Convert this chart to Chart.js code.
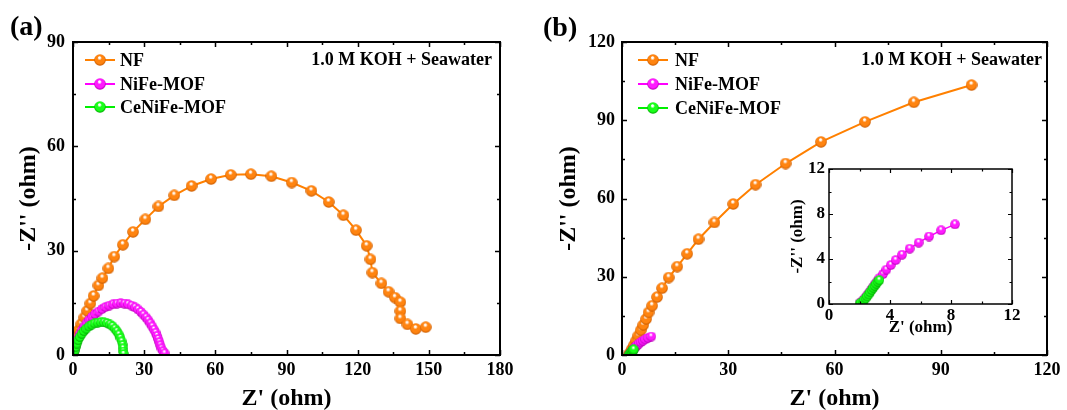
<!DOCTYPE html>
<html>
<head>
<meta charset="utf-8">
<script src="https://cdn.jsdelivr.net/npm/chart.js@4.4.1/dist/chart.umd.min.js"></script>
<style>
  html, body { margin: 0; padding: 0; background: #fff; }
  #wrap { position: relative; width: 1067px; height: 410px; overflow: hidden; }
  canvas { position: absolute; }
</style>
</head>
<body>
<div id="wrap">
  <canvas id="chartA" width="530" height="420" style="left:0;top:0"></canvas>
  <canvas id="chartB" width="537" height="420" style="left:530px;top:0"></canvas>
  <canvas id="chartInset" width="270" height="200" style="left:770px;top:150px"></canvas>
</div>
<script>
// series names
const seriesNames = ['NF', 'NiFe-MOF', 'CeNiFe-MOF'];
const electrolyte = '1.0 M KOH + Seawater';

// panel (a) - Nyquist data, Z' and -Z''
const nfA_x = [0.2, 0.5, 0.8, 1.6, 2.5, 3.5, 4.8, 6.0, 7.3, 8.7, 10.7, 12.4, 14.9, 17.4, 21.0, 25.3, 30.5, 36.0, 42.7, 50.0, 58.2, 66.5, 75.0, 83.6, 92.2, 100.5, 107.8, 114.0, 119.3, 123.8, 125.4, 126.2, 130.0, 133.0, 135.7, 138.0, 138.0, 138.0, 141.0, 144.5, 148.7];
const nfA_y = [0.3, 2.0, 3.8, 5.6, 7.2, 8.9, 10.8, 12.7, 14.8, 17.0, 20.0, 22.1, 24.9, 28.3, 31.7, 35.4, 39.0, 42.7, 45.9, 48.6, 50.6, 51.8, 52.0, 51.4, 49.6, 47.2, 44.0, 40.2, 35.9, 31.4, 27.5, 23.7, 20.6, 18.2, 16.5, 15.2, 12.6, 10.5, 8.8, 7.5, 8.0];

const nifeA_x = [0.5, 0.8, 1.2, 1.7, 2.3, 3.0, 3.8, 4.7, 5.7, 6.8, 8.0, 9.3, 10.7, 12.2, 13.7, 15.3, 16.9, 18.5, 20.1, 21.7, 23.2, 24.7, 26.1, 27.4, 28.6, 29.7, 30.8, 31.7, 32.6, 33.4, 34.1, 34.8, 35.4, 35.9, 36.4, 36.8, 37.3, 37.9, 38.6];
const nifeA_y = [0.3, 1.5, 2.7, 3.9, 5.0, 6.1, 7.2, 8.2, 9.2, 10.1, 11.0, 11.8, 12.5, 13.2, 13.8, 14.2, 14.6, 14.8, 14.9, 14.8, 14.6, 14.2, 13.7, 13.1, 12.4, 11.6, 10.8, 10.0, 9.1, 8.2, 7.3, 6.4, 5.5, 4.6, 3.7, 2.8, 1.9, 1.1, 0.5];

const ceA_x = [0.4, 0.7, 1.1, 1.6, 2.2, 2.9, 3.7, 4.6, 5.6, 6.7, 7.9, 9.1, 10.4, 11.7, 13.0, 14.3, 15.5, 16.6, 17.6, 18.5, 19.3, 20.0, 20.5, 20.9, 21.1, 21.2, 21.3];
const ceA_y = [0.3, 1.3, 2.3, 3.3, 4.3, 5.2, 6.1, 6.9, 7.6, 8.2, 8.7, 9.1, 9.3, 9.4, 9.4, 9.2, 8.8, 8.3, 7.6, 6.8, 5.9, 4.9, 3.9, 2.9, 1.9, 1.0, 0.3];

// panel (b)
const nfB_x = [2.0, 2.3, 2.8, 3.4, 4.0, 4.6, 5.3, 6.0, 6.8, 7.5, 8.5, 9.9, 11.3, 13.2, 15.6, 18.4, 21.6, 26.1, 31.4, 37.7, 46.2, 56.2, 68.6, 82.4, 98.7];
const nfB_y = [0.2, 0.9, 2.3, 3.8, 5.5, 7.4, 9.5, 11.5, 13.8, 16.3, 18.9, 22.2, 25.6, 29.7, 33.9, 38.8, 44.4, 50.8, 57.9, 65.3, 73.4, 81.7, 89.4, 96.9, 103.5];

const nifeB_x = [2.0, 2.12, 2.25, 2.38, 2.5, 2.62, 2.75, 2.88, 3.0, 3.15, 3.3, 3.54, 3.76, 4.05, 4.37, 4.79, 5.29, 5.88, 6.56, 7.35, 8.26];
const nifeB_y = [0.05, 0.17, 0.35, 0.55, 0.78, 1.0, 1.25, 1.5, 1.75, 2.0, 2.3, 2.66, 3.05, 3.46, 3.9, 4.38, 4.92, 5.45, 6.0, 6.55, 7.08];

const ceB_x = [2.0, 2.1, 2.2, 2.3, 2.4, 2.5, 2.6, 2.7, 2.8, 2.9, 3.0, 3.1, 3.2, 3.3];
const ceB_y = [0.02, 0.1, 0.2, 0.35, 0.5, 0.68, 0.85, 1.05, 1.25, 1.45, 1.62, 1.8, 1.98, 2.12];

// tick labels
const ticksA_x = [0, 30, 60, 90, 120, 150, 180];
const ticksA_y = [0, 30, 60, 90];
const ticksB_x = [0, 30, 60, 90, 120];
const ticksB_y = [0, 30, 60, 90, 120];
const ticksIn_x = [0, 4, 8, 12];
const ticksIn_y = [0, 4, 8, 12];

const FONT = '"Liberation Serif", "Times New Roman", serif';
const colors = ['#FF8000', '#FF00FF', '#00F000'];
const ballCols = [['#FF8410', '#C85A00'], ['#FF1AFF', '#B400B4'], ['#1AFF1A', '#00A800']];

function ball(col, edge, d) {
  const c = document.createElement('canvas');
  c.width = d; c.height = d;
  const g = c.getContext('2d');
  const r = d / 2;
  const grad = g.createRadialGradient(r * 0.9, r * 0.55, 0, r, r * 0.95, r);
  grad.addColorStop(0, '#ffffff');
  grad.addColorStop(0.14, '#ffffff');
  grad.addColorStop(0.38, col);
  grad.addColorStop(0.75, col);
  grad.addColorStop(1, edge);
  g.fillStyle = grad;
  g.beginPath();
  g.arc(r, r, r - 0.2, 0, Math.PI * 2);
  g.fill();
  return c;
}

const pts = (xs, ys) => xs.map((x, i) => ({ x: x, y: ys[i] }));

function ds(i, xs, ys, d, lw) {
  return {
    label: seriesNames[i],
    data: pts(xs, ys),
    borderColor: colors[i],
    borderWidth: lw,
    pointStyle: ball(ballCols[i][0], ballCols[i][1], d),
    pointRadius: d / 2,
    tension: 0,
    order: 3 - i
  };
}

// frame + inward ticks on all four sides
const framePlugin = {
  id: 'frame',
  afterDraw(chart, args, o) {
    const { ctx, chartArea: a, scales: { x, y } } = chart;
    ctx.save();
    ctx.strokeStyle = '#000';
    ctx.lineWidth = o.lw;
    ctx.strokeRect(a.left, a.top, a.right - a.left, a.bottom - a.top);
    ctx.lineWidth = o.tw;
    ctx.beginPath();
    const hx = o.xStep / 2, hy = o.yStep / 2;
    for (let k = 0; x.min + k * hx <= x.max + 1e-9; k++) {
      const px = Math.round(x.getPixelForValue(x.min + k * hx)) + 0.5;
      const len = k % 2 === 0 ? o.major : o.minor;
      ctx.moveTo(px, a.bottom); ctx.lineTo(px, a.bottom - len);
      ctx.moveTo(px, a.top); ctx.lineTo(px, a.top + len);
    }
    for (let k = 0; y.min + k * hy <= y.max + 1e-9; k++) {
      const py = Math.round(y.getPixelForValue(y.min + k * hy)) + 0.5;
      const len = k % 2 === 0 ? o.major : o.minor;
      ctx.moveTo(a.left, py); ctx.lineTo(a.left + len, py);
      ctx.moveTo(a.right, py); ctx.lineTo(a.right - len, py);
    }
    ctx.stroke();
    ctx.restore();
  }
};

// legend with line-ball-line samples, panel label, electrolyte note
const notesPlugin = {
  id: 'notes',
  afterDraw(chart, args, o) {
    if (!o.show) return;
    const ctx = chart.ctx;
    ctx.save();
    ctx.fillStyle = '#000';
    ctx.textBaseline = 'middle';
    ctx.font = 'bold 28px ' + FONT;
    ctx.textAlign = 'left';
    ctx.fillText(o.panel, o.panelX, o.panelY);
    ctx.font = 'bold 18px ' + FONT;
    ctx.textAlign = 'right';
    ctx.fillText(electrolyte, o.noteX, o.noteY);
    ctx.textAlign = 'left';
    chart.data.datasets.forEach((d, i) => {
      const yy = o.rows[i];
      ctx.strokeStyle = d.borderColor;
      ctx.lineWidth = 2;
      ctx.beginPath();
      ctx.moveTo(o.lx, yy); ctx.lineTo(o.lx + 30, yy);
      ctx.stroke();
      const img = ball(ballCols[i][0], ballCols[i][1], 12);
      ctx.drawImage(img, o.lx + 15 - 6, yy - 6);
      ctx.fillStyle = '#000';
      ctx.fillText(d.label, o.tx, yy + 1);
    });
    ctx.restore();
  }
};

function axis(ticks, fontSize, pad, titleText, titleSize, titlePad, fit, horizontal) {
  return {
    type: 'linear',
    min: ticks[0],
    max: ticks[ticks.length - 1],
    afterBuildTicks: s => { s.ticks = ticks.map(v => ({ value: v })); },
    afterFit: s => { if (horizontal) s.height = fit; else s.width = fit; },
    grid: { display: false, drawTicks: false },
    border: { display: false },
    ticks: { color: '#000', padding: pad, font: { family: FONT, size: fontSize, weight: 'bold' } },
    title: { display: true, text: titleText, color: '#000', padding: titlePad, font: { family: FONT, size: titleSize, weight: 'bold' } }
  };
}

function baseOptions(pad, scales, frame, notes) {
  return {
    responsive: false,
    animation: false,
    events: [],
    layout: { padding: pad },
    scales: scales,
    plugins: { legend: { display: false }, tooltip: { enabled: false }, frame: frame, notes: notes }
  };
}

Chart.register(framePlugin, notesPlugin);

new Chart(document.getElementById('chartA'), {
  type: 'line',
  data: { datasets: [
    ds(0, nfA_x, nfA_y, 12, 2),
    ds(1, nifeA_x, nifeA_y, 10, 1.5),
    ds(2, ceA_x, ceA_y, 10, 1.5)
  ] },
  options: baseOptions({ left: 0, top: 42, right: 30, bottom: 0 }, {
    x: axis(ticksA_x, 18, 5, "Z' (ohm)", 24, { top: 0, bottom: 7 }, 65, true),
    y: axis(ticksA_y, 18, 8, "-Z'' (ohm)", 24, { top: 14, bottom: 0 }, 73, false)
  }, { lw: 2, tw: 1.5, xStep: 30, yStep: 30, major: 5, minor: 3 },
  { show: true, panel: '(a)', panelX: 10, panelY: 28, noteX: 492, noteY: 60, rows: [60, 84, 107], lx: 85, tx: 120 })
});

new Chart(document.getElementById('chartB'), {
  type: 'line',
  data: { datasets: [
    ds(0, nfB_x, nfB_y, 12, 2),
    ds(1, nifeB_x, nifeB_y, 10, 1.5),
    ds(2, ceB_x, ceB_y, 10, 1.5)
  ] },
  options: baseOptions({ left: 0, top: 42, right: 20, bottom: 0 }, {
    x: axis(ticksB_x, 18, 5, "Z' (ohm)", 24, { top: 0, bottom: 7 }, 65, true),
    y: axis(ticksB_y, 18, 7, "-Z'' (ohm)", 24, { top: 24, bottom: 0 }, 92, false)
  }, { lw: 2, tw: 1.5, xStep: 30, yStep: 30, major: 5, minor: 3 },
  { show: true, panel: '(b)', panelX: 13, panelY: 29, noteX: 512, noteY: 60, rows: [60, 84, 108], lx: 108, tx: 145 })
});

new Chart(document.getElementById('chartInset'), {
  type: 'line',
  data: { datasets: [
    ds(1, nifeB_x, nifeB_y, 10, 1.5),
    ds(2, ceB_x, ceB_y, 10, 1.5)
  ] },
  options: baseOptions({ left: 0, top: 19, right: 28, bottom: 0 }, {
    x: axis(ticksIn_x, 17, 1, "Z' (ohm)", 17, { top: 0, bottom: 12 }, 46, true),
    y: axis(ticksIn_y, 17, 4, "-Z'' (ohm)", 17, { top: 17, bottom: 0 }, 59, false)
  }, { lw: 1.5, tw: 1.2, xStep: 4, yStep: 4, major: 4, minor: 2.5 },
  { show: false })
});
</script>
</body>
</html>
